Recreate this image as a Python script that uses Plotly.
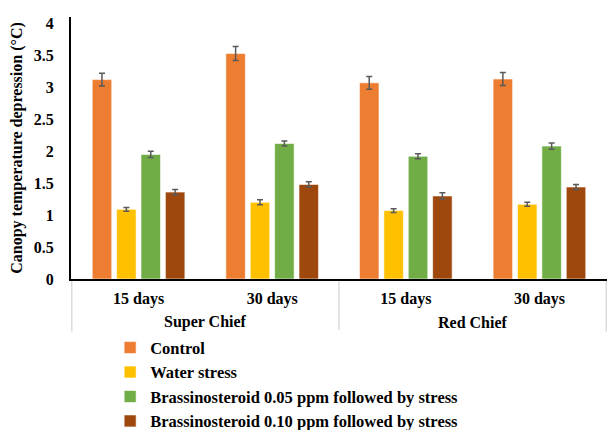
import plotly.graph_objects as go

# Cultivar / sampling-time categories
cultivars = ["Super Chief", "Super Chief", "Red Chief", "Red Chief"]
days = ["15 days", "30 days", "15 days", "30 days"]

# Canopy temperature depression (°C) and standard errors per treatment
control = [3.12, 3.53, 3.07, 3.13]
control_err = [0.10, 0.11, 0.10, 0.10]
water_stress = [1.09, 1.20, 1.07, 1.17]
water_stress_err = [0.03, 0.04, 0.03, 0.03]
br_005 = [1.95, 2.12, 1.92, 2.08]
br_005_err = [0.05, 0.04, 0.04, 0.05]
br_010 = [1.36, 1.48, 1.30, 1.44]
br_010_err = [0.04, 0.04, 0.05, 0.04]

series = [
    ("Control", control, control_err, "#ED7D31"),
    ("Water stress", water_stress, water_stress_err, "#FFC000"),
    ("Brassinosteroid 0.05 ppm followed by stress", br_005, br_005_err, "#70AD47"),
    ("Brassinosteroid 0.10 ppm followed by stress", br_010, br_010_err, "#9E480E"),
]

font_family = "Liberation Serif"

# one category slot per cultivar / day combination
keys = [f"{c} | {d}" for c, d in zip(cultivars, days)]

fig = go.Figure()
for name, vals, errs, color in series:
    fig.add_trace(go.Bar(
        name=name,
        x=keys,
        y=vals,
        legendgroup=name,
        marker=dict(color=color, line=dict(color="rgba(255,255,255,0.6)", width=1)),
        error_y=dict(type="data", array=errs, color="#5a5a5a", thickness=1.5, width=3),
    ))

# cultivar groups: label centred under their day categories, dividers between groups
groups = []
for i, c in enumerate(cultivars):
    if not groups or groups[-1][0] != c:
        groups.append([c, i, i])
    else:
        groups[-1][2] = i

annotations = []
for c, first, last in groups:
    annotations.append(dict(
        x=(first + last) / 2, xref="x",
        y=0, yref="paper", yanchor="middle", yshift=-43,
        text=c, showarrow=False,
        font=dict(family=font_family, size=16, color="black", weight="bold"),
    ))

shapes = []
for bound in [groups[0][1] - 0.5] + [g[2] + 0.5 for g in groups]:
    shapes.append(dict(
        type="line", xref="x", yref="paper",
        x0=bound, x1=bound, y0=-0.008, y1=-0.2,
        line=dict(color="#dcdcdc", width=1.5),
    ))

fig.update_layout(
    width=610, height=430,
    margin=dict(l=71, r=3, t=17, b=151, autoexpand=False),
    paper_bgcolor="white", plot_bgcolor="white",
    barmode="group", bargap=0.27, bargroupgap=0.2,
    font=dict(family=font_family, size=16, color="black"),
    showlegend=True,
    legend=dict(
        x=0.073, y=-0.196, xanchor="left", yanchor="top",
        orientation="v", tracegroupgap=0, itemwidth=30,
        font=dict(family=font_family, size=16.5, color="black", weight="bold"),
    ),
    xaxis=dict(
        type="category", automargin=False,
        tickvals=keys, ticktext=days,
        showline=True, linecolor="black", linewidth=2,
        ticks="", showgrid=False, ticklabelstandoff=4,
        tickfont=dict(family=font_family, size=16, color="black", weight="bold"),
    ),
    yaxis=dict(
        range=[0, 4.1], automargin=False,
        tickvals=[0, 0.5, 1, 1.5, 2, 2.5, 3, 3.5, 4],
        ticktext=["0", "0.5", "1", "1.5", "2", "2.5", "3", "3.5", "4"],
        showline=True, linecolor="black", linewidth=2,
        showgrid=False, zeroline=False, ticks="", ticklabelstandoff=12,
        tickfont=dict(family=font_family, size=16, color="black", weight="bold"),
        title=dict(
            text="Canopy temperature depression (°C)",
            font=dict(family=font_family, size=16, color="black", weight="bold"),
            standoff=7,
        ),
    ),
    annotations=annotations,
    shapes=shapes,
)

fig.write_html("out.html")
